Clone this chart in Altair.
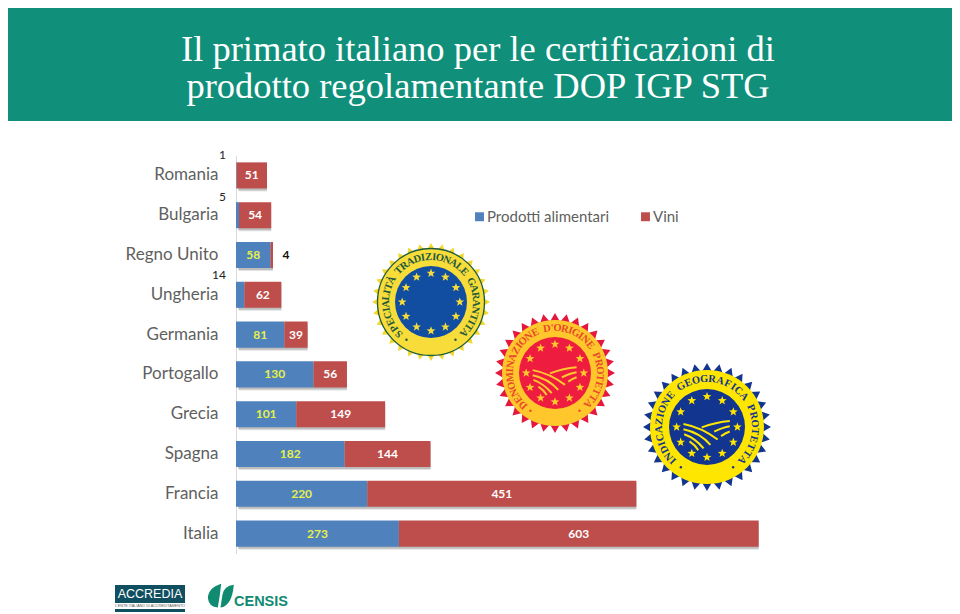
import math
import altair as alt
import pandas as pd

# ---- data ----
countries = ["Romania", "Bulgaria", "Regno Unito", "Ungheria", "Germania",
             "Portogallo", "Grecia", "Spagna", "Francia", "Italia"]
prodotti = [1, 5, 58, 14, 81, 130, 101, 182, 220, 273]
vini = [51, 54, 4, 62, 39, 56, 149, 144, 451, 603]
series = ["Prodotti alimentari", "Vini"]
colors = ["#4f81bd", "#bd4e4c"]
title_lines = ["Il primato italiano per le certificazioni di",
               "prodotto regolamentante DOP IGP STG"]
seal_texts = ["SPECIALITÀ TRADIZIONALE GARANTITA",
              "DENOMINAZIONE D'ORIGINE PROTETTA",
              "INDICAZIONE GEOGRAFICA PROTETTA"]

# ---- layout, page pixels ----
PX, PY = 236, 155.5          # plot origin on the page
W, H = 716, 398
PAD = alt.Padding(left=PX - 8, top=PY - 8, right=944 - (PX - 8) - W, bottom=606 - (PY - 8) - H)
LABEL = "Lato"
SERIF = "Liberation Serif"


def fx(x):
    return x - PX


def fy(y):
    return y - PY


rows = []
for c, p, v in zip(countries, prodotti, vini):
    rows.append(dict(country=c, series=series[0], start=0, end=p, mid=p / 2, value=p))
    rows.append(dict(country=c, series=series[1], start=p, end=p + v, mid=p + v / 2, value=v))
df = pd.DataFrame(rows)
totals = pd.DataFrame(dict(country=countries, start=[0] * 10, end=[p + v for p, v in zip(prodotti, vini)]))

xs = alt.Scale(domain=[0, 1200], nice=False, zero=False)
ys = alt.Scale(domain=countries, paddingInner=0.345, paddingOuter=0.1725)
X = alt.X("start:Q", scale=xs, axis=None)
X2 = alt.X2("end:Q")
Y = alt.Y("country:N", scale=ys, sort=countries, title=None,
          axis=alt.Axis(labelFont=LABEL, labelFontSize=17, labelColor="#5f5f5f", labelPadding=18,
                        ticks=False, grid=False, domainColor="#d9d9d9", domainWidth=1,
                        labelLimit=200))

one = pd.DataFrame({"a": [0]})
layers = []

# banner
layers.append(alt.Chart(one).mark_rect(color="#108f7b").encode(
    x=alt.value(-(PX - 8)), x2=alt.value(944 - (PX - 8)), y=alt.value(-(PY - 8)), y2=alt.value(fy(121))))

# bar shadows
for off, op in [(3, 0.18), (2, 0.3)]:
    layers.append(alt.Chart(totals).mark_bar(color="#666666", opacity=op, xOffset=off, yOffset=off).encode(
        x=X, x2=X2, y=Y))

# bars
layers.append(alt.Chart(df).mark_bar().encode(
    x=X, x2=X2, y=Y,
    color=alt.Color("series:N", scale=alt.Scale(domain=series, range=colors),
                    legend=alt.Legend(orient="none", legendX=fx(472), legendY=fy(209), direction="horizontal",
                                      title=None, symbolType="square", symbolSize=80, symbolStrokeWidth=0,
                                      labelFont=LABEL, labelFontSize=15, labelColor="#5f5f5f",
                                      columnPadding=28, labelOffset=0))))

# value labels
big_blue = df[(df.series == series[0]) & (df.value > 20)]
big_red = df[(df.series == series[1]) & (df.value > 20)]
for d, col in [(big_blue, "#e6f04a"), (big_red, "#ffffff")]:
    layers.append(alt.Chart(d).mark_text(font=LABEL, fontSize=12, fontWeight="bold", color=col).encode(
        x=alt.X("mid:Q", scale=xs, axis=None), y=Y, text="value:Q"))

small_names = ["Romania", "Bulgaria", "Ungheria"]
small_vals = [1, 5, 14]
for n, v, dy in zip(small_names, small_vals, [-20, -18, -20]):
    layers.append(alt.Chart(pd.DataFrame(dict(country=[n], zero=[0], value=[v]))).mark_text(
        font=LABEL, fontSize=12, color="#222222", align="right", dx=-10, dy=dy).encode(
        x=alt.X("zero:Q", scale=xs, axis=None), y=Y, text="value:Q"))
layers.append(alt.Chart(pd.DataFrame(dict(country=["Regno Unito"], x=[62], value=[4]))).mark_text(
    font=LABEL, fontSize=12, fontWeight="bold", color="#111111", dx=13).encode(
    x=alt.X("x:Q", scale=xs, axis=None), y=Y, text="value:Q"))


# ---- decoration helpers (drawn in raw pixels) ----
def sym(x, y, r, color, shape="circle", stroke=None, sw=1.0):
    """one or several symbols of radius r at page positions"""
    xs_ = x if isinstance(x, list) else [x]
    ys_ = y if isinstance(y, list) else [y]
    d = pd.DataFrame(dict(px=[fx(a) for a in xs_], py=[fy(b) for b in ys_]))
    if stroke:
        m = alt.Chart(d).mark_point(shape=shape, size=(2 * r) ** 2, filled=False, stroke=stroke,
                                    strokeWidth=sw, opacity=1)
    else:
        m = alt.Chart(d).mark_point(shape=shape, size=(2 * r) ** 2, filled=True, fill=color,
                                    strokeWidth=0, opacity=1)
    return m.encode(x=alt.X("px:Q", scale=None, axis=None), y=alt.Y("py:Q", scale=None, axis=None))


def burst(n, inner):
    pts = []
    for i in range(2 * n):
        r = 1 if i % 2 == 0 else inner
        a = math.pi * i / n
        pts.append(f"{r * math.sin(a):.4f},{-r * math.cos(a):.4f}")
    return "M" + " L".join(pts) + " Z"


def star():
    pts = []
    for i in range(10):
        r = 1 if i % 2 == 0 else 0.42
        a = math.pi * i / 5
        pts.append(f"{r * math.sin(a):.4f},{-r * math.cos(a):.4f}")
    return "M" + " L".join(pts) + " Z"


FIELD = ("M-.62,-.08 Q-.14,.01 .28,.33 M-.62,.06 Q-.19,.15 .09,.47 M-.6,.19 Q-.32,.29 -.09,.56 "
         "M-.46,.38 Q-.32,.47 -.23,.61 M-.14,.01 Q.23,-.13 .6,-.16 M.19,.12 Q.42,.01 .6,-.02 M.37,.24 Q.5,.15 .6,.12")
NARROW = {"I": 0.55, "'": 0.4, " ": 0.65, "M": 1.3, "T": 0.95, "L": 0.9}


def ring(text, cx, cy, r, a0, a1, size, color):
    w = [NARROW.get(c, 1.0) for c in text]
    tot = sum(w) - (w[0] + w[-1]) / 2
    acc = 0
    out = []
    for i, c in enumerate(text):
        a = a0 + (a1 - a0) * acc / tot
        if i + 1 < len(text):
            acc += (w[i] + w[i + 1]) / 2
        rad = math.radians(a)
        out.append(dict(ch=c, px=fx(cx + r * math.sin(rad)), py=fy(cy - r * math.cos(rad)), ang=a % 360))
    d = pd.DataFrame(out)
    d = d[d.ch != " "]
    return alt.Chart(d).mark_text(font=SERIF, fontSize=size, fontWeight="bold", color=color, baseline="middle").encode(
        x=alt.X("px:Q", scale=None, axis=None), y=alt.Y("py:Q", scale=None, axis=None),
        text="ch:N", angle=alt.Angle("ang:Q", scale=None))


def seal(cx, cy, ro, rm, ri, tooth, gold, core, star_col, text, tcol, tr, field, line=None):
    out = [sym(cx, cy, ro, tooth, shape=burst(32, 0.86)),
           sym(cx, cy, rm, gold)]
    if line:
        out.append(sym(cx, cy, rm, None, stroke=line, sw=1.3))
    out.append(sym(cx, cy, ri, core))
    sx, sy = [], []
    for k in range(12):
        a = math.radians(30 * k)
        sx.append(cx + ri * 0.8 * math.sin(a))
        sy.append(cy - ri * 0.8 * math.cos(a))
    out.append(sym(sx, sy, 4.6, star_col, shape=star()))
    if field:
        out.append(sym(cx, cy, ri, None, shape=FIELD, stroke=star_col, sw=2))
    out.append(ring(text, cx, cy, tr, -135, 133, 10.5, tcol))
    for s in (-1, 1):
        a = math.radians(180 + s * 33)
        out.append(sym(cx + tr * math.sin(a), cy - tr * math.cos(a), 1.2, tcol))
    return out


layers += seal(431, 302, 59, 53.5, 36, "#f2d82e", "#f7dc3a", "#114ea1", "#f5dc3c", seal_texts[0], "#1d5a3a", 45, False,
               line="#1e5c3c")
layers += seal(555, 373, 60, 53, 36, "#e5173f", "#ffc72c", "#ee1c3e", "#ffc82e", seal_texts[1], "#e8492b", 45, True)
layers += seal(707, 427, 64, 57, 38, "#12358f", "#ffe600", "#12358f", "#ffe600", seal_texts[2], "#12358f", 48, True)

# ---- ACCREDIA logo ----
layers.append(alt.Chart(one).mark_rect(color="#0f4f5f").encode(
    x=alt.value(fx(115)), x2=alt.value(fx(185)), y=alt.value(fy(585)), y2=alt.value(fy(612))))
layers.append(alt.Chart(one).mark_rect(color="#ffffff").encode(
    x=alt.value(fx(115)), x2=alt.value(fx(185)), y=alt.value(fy(603)), y2=alt.value(fy(609))))
logo_text = pd.DataFrame(dict(px=[fx(150)], py=[fy(594)], t=["ACCREDIA"]))
layers.append(alt.Chart(logo_text).mark_text(font="Liberation Sans", fontSize=12.5, color="#ffffff").encode(
    x=alt.X("px:Q", scale=None, axis=None), y=alt.Y("py:Q", scale=None, axis=None), text="t:N"))
logo_sub = pd.DataFrame(dict(px=[fx(150)], py=[fy(606)], t=["L'ENTE ITALIANO DI ACCREDITAMENTO"]))
layers.append(alt.Chart(logo_sub).mark_text(font="Liberation Sans", fontSize=3.7, color="#555555").encode(
    x=alt.X("px:Q", scale=None, axis=None), y=alt.Y("py:Q", scale=None, axis=None), text="t:N"))

# ---- CENSIS logo ----
LEAF = ("M.05,-.87 Q-.9,-.56 -.9,.16 Q-.83,.78 -.19,.83 Q-.05,.07 .05,-.87 Z "
        "M.95,-.81 Q.24,-.72 .14,-.09 L0,.83 Q.83,.68 .95,-.81 Z")
layers.append(sym(220.5, 596, 14, "#108a70", shape=LEAF))
cens = pd.DataFrame(dict(px=[fx(261)], py=[fy(602)], t=["CENSIS"]))
layers.append(alt.Chart(cens).mark_text(font="Liberation Sans", fontSize=14.5, fontWeight="bold", color="#108a70",
                                        baseline="middle").encode(
    x=alt.X("px:Q", scale=None, axis=None), y=alt.Y("py:Q", scale=None, axis=None), text="t:N"))

chart = alt.layer(*layers).properties(
    width=W, height=H, padding=PAD, background="#ffffff",
    autosize=alt.AutoSizeParams(type="none"),
    title=alt.TitleParams(text=title_lines, font=SERIF, fontSize=36.5, fontWeight="normal", color="#ffffff",
                          anchor="middle", dx=478 - (PX + W / 2), offset=-97, lineHeight=37, frame="group"),
).configure_view(stroke=None)

chart.save("out.html", embed_options={"renderer": "svg", "actions": False})
